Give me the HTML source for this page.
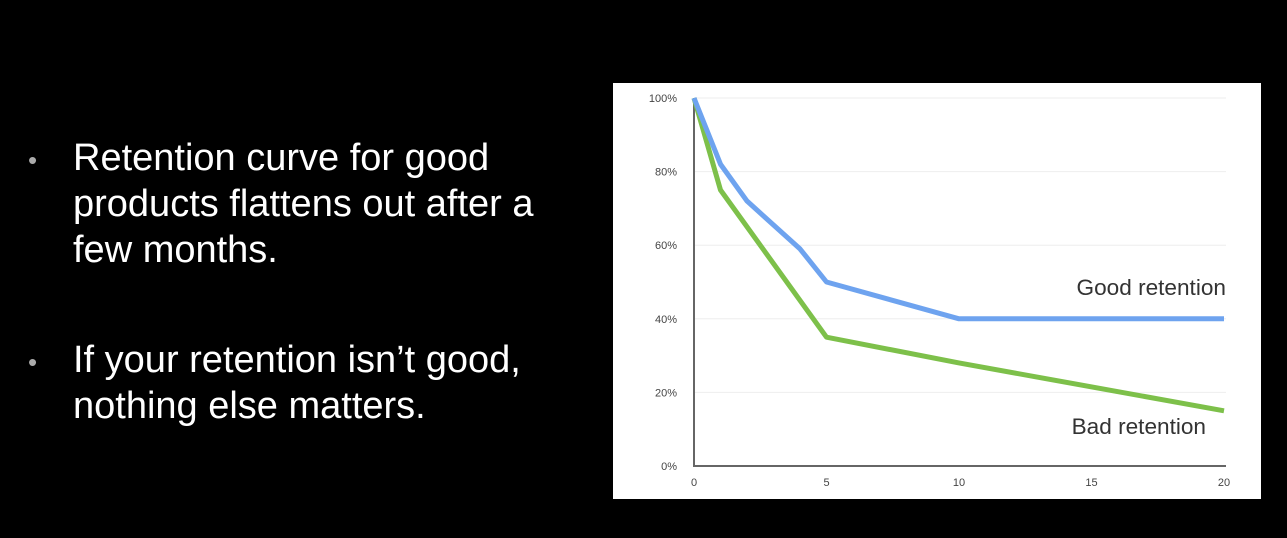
<!DOCTYPE html>
<html><head><meta charset="utf-8"><style>
body{margin:0;width:1287px;height:538px;background:#000;overflow:hidden;font-family:"Liberation Sans",sans-serif;}
.b{position:absolute;color:#fff;font-size:38px;line-height:46px;white-space:nowrap;}
.dot{position:absolute;color:#aaa;font-size:26px;}
</style></head><body>
<div class="dot" style="left:28px;top:145px">•</div>
<div class="b" style="left:73px;top:135px">Retention curve for good<br>products flattens out after a<br>few months.</div>
<div class="dot" style="left:28px;top:347px">•</div>
<div class="b" style="left:73px;top:337px">If your retention isn’t good,<br>nothing else matters.</div>
<svg id="c" style="position:absolute;left:0;top:0" width="1287" height="538"></svg>
<script>
const xs=[0,1,2,4,5,10,20];
const good=[100,82,72,59,50,40,40];
const gx=[0,1,5,10,20];
const bad=[100,75,35,28,15];
const yTicks=[0,20,40,60,80,100];
const xTicks=[0,5,10,15,20];
const X=v=>694+v*26.5, Y=v=>466-v*3.68;
const s=document.getElementById('c'),ns='http://www.w3.org/2000/svg';
function mk(t,a,txt){const e=document.createElementNS(ns,t);for(const k in a)e.setAttribute(k,a[k]);if(txt!=null)e.textContent=txt;s.appendChild(e);return e;}
let e=mk('rect',{x:613,y:83,width:648,height:416,fill:'#fff'});


yTicks.forEach(v=>{
 if(v>0){let g=mk('line',{x1:694,x2:1226,y1:Y(v),y2:Y(v),stroke:'#eee','stroke-width':1});
 
 }
 let t=mk('text',{x:677,y:Y(v)+4,'text-anchor':'end','font-size':11,fill:'#444'},v+'%');
 
 
});
xTicks.forEach(v=>{
 let t=mk('text',{x:X(v),y:486,'text-anchor':'middle','font-size':11,fill:'#444'},v);
 
 
});
e=mk('path',{d:'M694 98V466H1226',fill:'none',stroke:'#666','stroke-width':2});


e=mk('polyline',{points:gx.map((x,i)=>X(x)+','+Y(bad[i])).join(' '),fill:'none',stroke:'#7dc04a','stroke-width':5,'stroke-linejoin':'round'});


e=mk('polyline',{points:xs.map((x,i)=>X(x)+','+Y(good[i])).join(' '),fill:'none',stroke:'#6ea3ef','stroke-width':5,'stroke-linejoin':'round'});


e=mk('text',{x:1226,y:295,'text-anchor':'end','font-size':22.6,fill:'#333'},'Good retention');


e=mk('text',{x:1206,y:434,'text-anchor':'end','font-size':22.6,fill:'#333'},'Bad retention');


</script>
</body></html>
